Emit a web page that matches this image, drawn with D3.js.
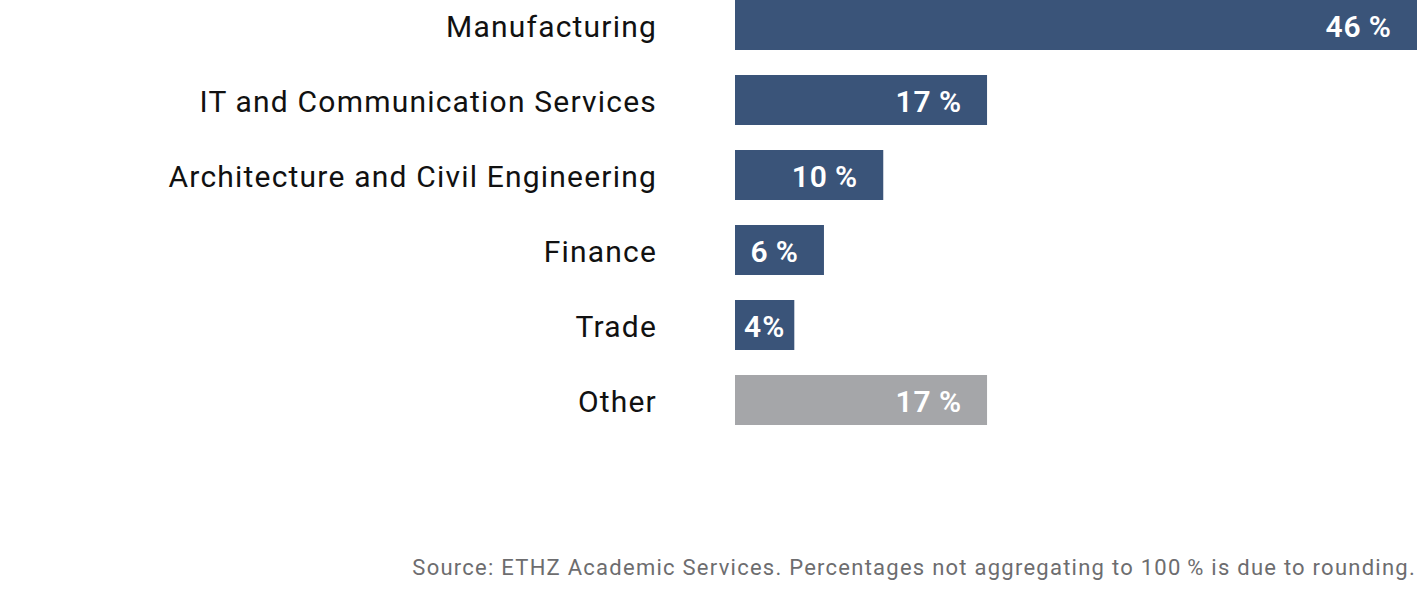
<!DOCTYPE html>
<html><head><meta charset="utf-8">
<script src="https://cdn.jsdelivr.net/npm/d3@7"></script>
<style>body{margin:0;background:#fff;}svg{display:block;}</style>
</head><body>
<svg id="c" width="1417" height="600"></svg>
<script>
const categories = ["Manufacturing","IT and Communication Services","Architecture and Civil Engineering","Finance","Trade","Other"];
const values = [46,17,10,6,4,17];
const valueLabels = ["46\u2009%","17\u2009%","10\u2009%","6\u2009%","4%","17\u2009%"];
const barColors = ["#3a5479","#3a5479","#3a5479","#3a5479","#3a5479","#a5a6a9"];
const sourceText = "Source: ETHZ Academic Services. Percentages not aggregating to 100\u2009% is due to rounding.";

const svg = d3.select("#c");
const font = "Roboto, 'DejaVu Sans', sans-serif";
const x = d3.scaleLinear().domain([0,46]).range([735,1417]);
const y = d3.scaleBand().domain(categories).range([0,425]).paddingInner(1/3).paddingOuter(0);

const g = svg.append("g");
g.selectAll("rect").data(categories).join("rect")
  .attr("x", x(0)).attr("y", d=>y(d))
  .attr("width", (d,i)=>x(values[i])-x(0))
  .attr("height", y.bandwidth())
  .attr("fill", (d,i)=>barColors[i]);

g.selectAll("text.cat").data(categories).join("text").attr("class","cat")
  .attr("x", 657).attr("y", d=>y(d)+y.bandwidth()/2+12)
  .attr("text-anchor","end")
  .style("font-family", font).style("font-size","30px").style("letter-spacing","1.2px")
  .attr("fill","#111").text(d=>d);

g.selectAll("text.val").data(categories).join("text").attr("class","val")
  .attr("x", (d,i)=> values[i] < 5 ? x(0)+9 : x(values[i])-25)
  .attr("y", d=>y(d)+y.bandwidth()/2+12)
  .attr("text-anchor", (d,i)=> values[i] < 5 ? "start" : "end")
  .style("font-family", font).style("font-size","30px").style("font-weight","600").style("letter-spacing","1px")
  .attr("fill","#fff").text((d,i)=>valueLabels[i]);

svg.append("text").attr("x",1416).attr("y",575).attr("text-anchor","end")
  .style("font-family", font).style("font-size","22px").style("letter-spacing","1.25px")
  .attr("fill","#6d6d6f").text(sourceText);
</script>
</body></html>
